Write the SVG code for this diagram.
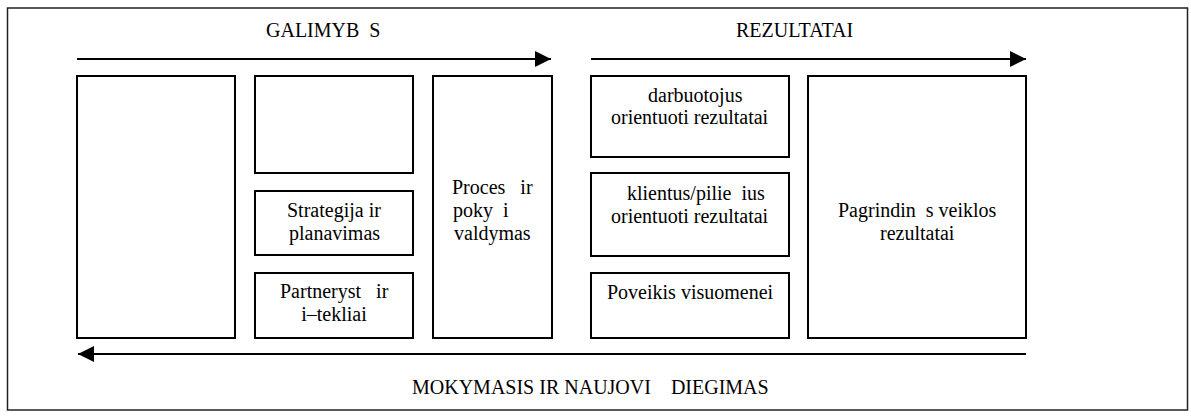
<svg xmlns="http://www.w3.org/2000/svg" width="1191" height="417" viewBox="0 0 1191 417">
<style>
  .frame{fill:#fff;stroke:#222;stroke-width:1.5}
  .box{fill:#fff;stroke:#000;stroke-width:2}
  .conn{stroke:#000;stroke-width:2.2;fill:none}
</style>
<defs>
  <marker id="ah" markerUnits="userSpaceOnUse" markerWidth="18" markerHeight="16" refX="16" refY="8" orient="auto">
    <path d="M0,0 L16,8 L0,16 Z" fill="#000"/>
  </marker>
</defs>
<rect class="frame" x="7.5" y="8" width="1180" height="402"/>
<g id="labels">
  <text x="266" y="37" style="font-family:'Liberation Serif','Times New Roman',serif;font-size:20px;white-space:pre">GALIMYB  S</text>
  <text x="736" y="37" style="font-family:'Liberation Serif','Times New Roman',serif;font-size:20px;white-space:pre">REZULTATAI</text>
  <text x="412" y="394" style="font-family:'Liberation Serif','Times New Roman',serif;font-size:20px;white-space:pre">MOKYMASIS IR NAUJOVI    DIEGIMAS</text>
</g>
<g id="connectors">
  <line class="conn" x1="77" y1="59" x2="551" y2="59" marker-end="url(#ah)"/>
  <line class="conn" x1="591" y1="59" x2="1026" y2="59" marker-end="url(#ah)"/>
  <line class="conn" x1="1026" y1="354" x2="78" y2="354" marker-end="url(#ah)"/>
</g>
<g id="box-a"><rect class="box" x="77" y="76" width="158" height="262"/></g>
<g id="box-b"><rect class="box" x="255" y="76" width="158" height="97"/></g>
<g id="strategija"><rect class="box" x="255" y="191" width="158" height="64"/>
  <text x="287" y="217" style="font-family:'Liberation Serif','Times New Roman',serif;font-size:20px;white-space:pre">Strategija ir</text>
  <text x="289" y="240" style="font-family:'Liberation Serif','Times New Roman',serif;font-size:20px;white-space:pre">planavimas</text></g>
<g id="partnerystes"><rect class="box" x="255" y="273" width="158" height="65"/>
  <text x="280" y="298" style="font-family:'Liberation Serif','Times New Roman',serif;font-size:20px;white-space:pre">Partneryst   ir</text>
  <text x="334" y="321" text-anchor="middle" style="font-family:'Liberation Serif','Times New Roman',serif;font-size:20px;white-space:pre">i–tekliai</text></g>
<g id="procesai"><rect class="box" x="433" y="76" width="119" height="262"/>
  <text x="452" y="194" style="font-family:'Liberation Serif','Times New Roman',serif;font-size:20px;white-space:pre">Proces   ir</text>
  <text x="453" y="217" style="font-family:'Liberation Serif','Times New Roman',serif;font-size:20px;white-space:pre">poky  i</text>
  <text x="454" y="240" style="font-family:'Liberation Serif','Times New Roman',serif;font-size:20px;white-space:pre">valdymas</text></g>
<g id="darbuotojai"><rect class="box" x="591" y="76" width="198" height="81"/>
  <text x="648" y="102" style="font-family:'Liberation Serif','Times New Roman',serif;font-size:20px;white-space:pre">darbuotojus</text>
  <text x="611" y="124" style="font-family:'Liberation Serif','Times New Roman',serif;font-size:20px;white-space:pre">orientuoti rezultatai</text></g>
<g id="klientai"><rect class="box" x="591" y="173" width="198" height="83"/>
  <text x="627" y="200" style="font-family:'Liberation Serif','Times New Roman',serif;font-size:20px;white-space:pre">klientus/pilie  ius</text>
  <text x="611" y="223" style="font-family:'Liberation Serif','Times New Roman',serif;font-size:20px;white-space:pre">orientuoti rezultatai</text></g>
<g id="poveikis"><rect class="box" x="591" y="273" width="198" height="65"/>
  <text x="607" y="299" style="font-family:'Liberation Serif','Times New Roman',serif;font-size:20px;white-space:pre">Poveikis visuomenei</text></g>
<g id="pagrindiniai"><rect class="box" x="808" y="76" width="218" height="262"/>
  <text x="838" y="217" style="font-family:'Liberation Serif','Times New Roman',serif;font-size:20px;white-space:pre">Pagrindin  s veiklos</text>
  <text x="880" y="240" style="font-family:'Liberation Serif','Times New Roman',serif;font-size:20px;white-space:pre">rezultatai</text></g>
</svg>
